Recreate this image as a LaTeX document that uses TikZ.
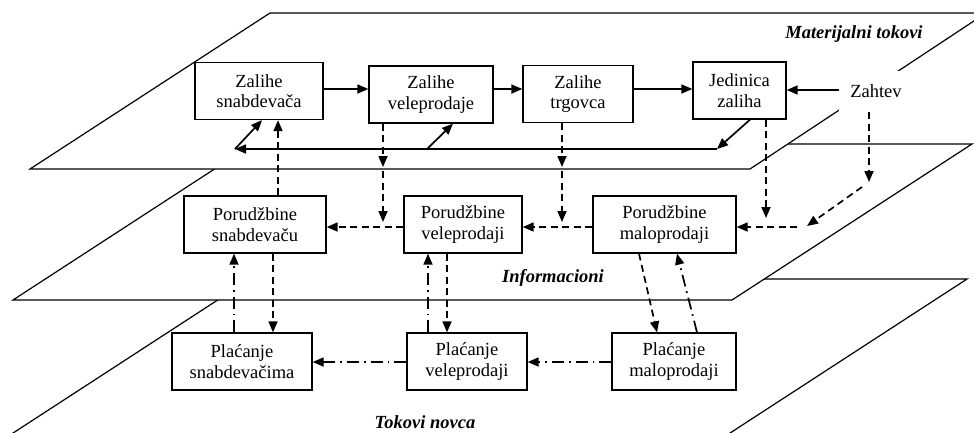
\documentclass[tikz,border=0pt]{standalone}
\usepackage{fontspec}
\setmainfont{Liberation Serif}
\usetikzlibrary{arrows.meta}
\begin{document}
\begin{tikzpicture}[x=1pt,y=-1pt,
  box/.style={draw,line width=1.3pt,fill=white,align=center,minimum height=57pt,inner sep=2pt,font=\fontsize{18.5}{20.5}\selectfont},
  plane/.style={draw,line width=1.2pt,fill=white,line join=miter},
  arr/.style={line width=1.7pt,-{Triangle[length=11pt,width=9pt]}},
  darr/.style={arr,dash pattern=on 7pt off 4.5pt},
  ddarr/.style={arr,dash pattern=on 12pt off 5pt on 1.7pt off 5pt},
  lab/.style={font=\fontsize{18.5}{20}\selectfont\bfseries\itshape}]
\useasboundingbox (0,0) rectangle (974,432);
% planes
\begin{scope}
\clip (0,0) rectangle (974,432);
\draw[plane] (250,279) -- (967,279) -- (727,435) -- (10,435) -- cycle;
\draw[plane] (253,144) -- (972,144) -- (732,300) -- (13,300) -- cycle;
\draw[plane] (270,13) -- (986,13) -- (750,169) -- (30,169) -- cycle;
\end{scope}
% plane labels
\node[lab] (lmat) at (854,34) {Materijalni tokovi};
\node[lab] (linf) at (553,278) {Informacioni};
\node[lab] (lnov) at (425,422) {Tokovi novca};
% top row
\node[box,minimum width=128pt] (zs) at (259,91) {Zalihe\\snabdeva\v{c}a};
\node[box,minimum width=124pt] (zv) at (431,94.5) {Zalihe\\veleprodaje};
\node[box,minimum width=110pt] (zt) at (578,94) {Zalihe\\trgovca};
\node[box,minimum width=93pt] (jz) at (739.5,90.5) {Jedinica\\zaliha};
\node[fill=white,minimum width=74pt,minimum height=41pt,inner sep=0pt,font=\fontsize{18.5}{20}\selectfont] (zh) at (876,91.5) {Zahtev};
% middle row
\node[box,minimum width=142pt] (ps) at (255,224.5) {Porud\v{z}bine\\snabdeva\v{c}u};
\node[box,minimum width=118pt] (pv) at (463,224.5) {Porud\v{z}bine\\veleprodaji};
\node[box,minimum width=143pt] (pm) at (664.5,224.5) {Porud\v{z}bine\\maloprodaji};
% bottom row
\node[box,minimum width=140pt] (cs) at (242,361.5) {Pla\'{c}anje\\snabdeva\v{c}ima};
\node[box,minimum width=120pt] (cv) at (467,361.5) {Pla\'{c}anje\\veleprodaji};
\node[box,minimum width=124pt] (cm) at (674,361.5) {Pla\'{c}anje\\maloprodaji};
% helper coordinates
\coordinate (r1) at (717,149);
\coordinate (r2) at (235,149);
\coordinate (r3) at (427,149);
\coordinate (v1) at (383,167);
\coordinate (v1b) at (383,171);
\coordinate (v2) at (383,222);
\coordinate (t1) at (562,167);
\coordinate (t1b) at (562,171);
\coordinate (t2) at (562,222);
\coordinate (j2) at (766,218);
\coordinate (z1) at (869,182);
\coordinate (z1b) at (862,187);
\coordinate (z2) at (807,226);
\coordinate (z3) at (797,227);
% material flows
\draw[arr] (zs.east |- 0,89) -- (zv.west |- 0,89);
\draw[arr] (zv.east |- 0,89) -- (zt.west |- 0,89);
\draw[arr] (zt.east |- 0,89) -- (jz.west |- 0,89);
\draw[arr] (zh.west |- 0,90) -- (jz.east |- 0,90);
\draw[arr] (jz.south -| 750,0) -- (r1);
\draw[arr] (r1) -- (r2);
\draw[arr] (r2) -- (zs.south -| 262,0);
\draw[arr] (r3) -- (zv.south -| 453,0);
% information flows
\draw[darr] (ps.north -| 278,0) -- (zs.south -| 278,0);
\draw[darr] (zv.south -| 383,0) -- (v1);
\draw[darr] (v1b) -- (v2);
\draw[darr] (zt.south -| 562,0) -- (t1);
\draw[darr] (t1b) -- (t2);
\draw[darr] (jz.south -| 766,0) -- (j2);
\draw[darr] (zh.south -| 869,0) -- (z1);
\draw[darr] (z1b) -- (z2);
\draw[darr] (z3) -- (pm.east |- 0,227);
\draw[darr] (pm.west |- 0,227) -- (pv.east |- 0,227);
\draw[darr] (pv.west |- 0,227) -- (ps.east |- 0,227);
\draw[darr] (ps.south -| 273,0) -- (cs.north -| 273,0);
\draw[darr] (pv.south -| 447,0) -- (cv.north -| 447,0);
\draw[darr] (pm.south -| 639,0) -- (cm.north -| 657,0);
% money flows
\draw[ddarr] (cs.north -| 234,0) -- (ps.south -| 234,0);
\draw[ddarr] (cv.north -| 428,0) -- (pv.south -| 428,0);
\draw[ddarr] (cm.north -| 697,0) -- (pm.south -| 677,0);
\draw[ddarr] (cm.west |- 0,362) -- (cv.east |- 0,362);
\draw[ddarr] (cv.west |- 0,362) -- (cs.east |- 0,362);
\end{tikzpicture}
\end{document}
